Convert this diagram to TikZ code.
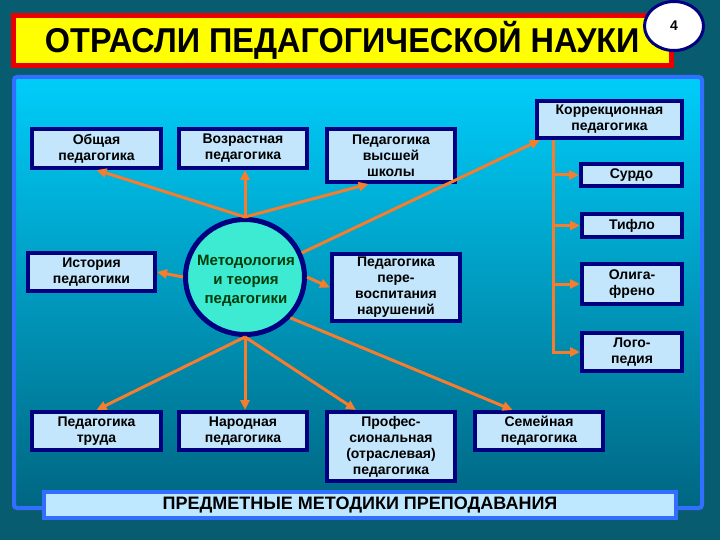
\documentclass[tikz,border=0pt]{standalone}
\usepackage{fontspec}
\setmainfont{Liberation Sans}
\usetikzlibrary{arrows.meta,shapes.geometric,calc}
\definecolor{bgc}{RGB}{8,92,112}
\definecolor{panelTop}{RGB}{0,205,250}
\definecolor{panelMid}{RGB}{0,160,210}
\definecolor{panelBot}{RGB}{0,102,130}
\definecolor{panelBorder}{RGB}{50,110,255}
\definecolor{navyc}{RGB}{0,0,128}
\definecolor{boxfill}{RGB}{195,230,252}
\definecolor{barfill}{RGB}{190,232,255}
\definecolor{arrc}{RGB}{245,125,45}
\definecolor{ellfill}{RGB}{60,235,210}
\definecolor{elltext}{RGB}{0,60,10}
\definecolor{titlered}{RGB}{235,0,0}
\definecolor{titleyellow}{RGB}{255,255,0}
\tikzset{
  boxn/.style={draw=navyc, line width=4pt, fill=boxfill, align=center,
    inner sep=1pt, font=\fontsize{14}{16}\selectfont\bfseries},
  arr/.style={draw=arrc, line width=3pt, -{Triangle[length=10pt,width=9pt]}},
  lin/.style={draw=arrc, line width=3pt},
}
\begin{document}
\begin{tikzpicture}[x=1pt,y=-1pt]
\useasboundingbox (0,0) rectangle (720,540);
\fill[bgc] (0,0) rectangle (720,540);
% panel
\shade[top color=panelTop, middle color=panelMid, bottom color=panelBot] (14,77) rectangle (702,508);
\draw[panelBorder, line width=4pt, rounded corners=3pt] (14,77) rectangle (702,508);
% title
\node[draw=titlered, fill=titleyellow, line width=5pt, minimum width=657.5pt, minimum height=50.5pt,
  inner sep=0pt, font=\fontsize{34.5}{34.5}\selectfont\bfseries] (title) at (342.25,40.75)
  {\scalebox{0.94}[1]{ОТРАСЛИ ПЕДАГОГИЧЕСКОЙ НАУКИ}};
\node[ellipse, draw=navyc, line width=3pt, fill=white, minimum width=59pt, minimum height=49pt,
  font=\fontsize{14}{14}\selectfont\bfseries] (num) at (674,26) {4};
% boxes
\node[boxn, minimum width=129pt, minimum height=39pt] (obsh) at (96.5,148.5) {Общая\\педагогика};
\node[boxn, minimum width=128pt, minimum height=39pt] (voz) at (243,148.5) {Возрастная\\педагогика};
\node[boxn, minimum width=128pt, minimum height=53pt] (vys) at (391,155.5) {Педагогика\\высшей\\школы};
\node[boxn, minimum width=145pt, minimum height=37pt] (kor) at (609.5,119.5) {Коррекционная\\педагогика};
\node[boxn, minimum width=101pt, minimum height=22pt] (surdo) at (631.5,175) {Сурдо};
\node[boxn, minimum width=100pt, minimum height=23pt] (tiflo) at (632,225.5) {Тифло};
\node[boxn, minimum width=100pt, minimum height=40pt] (oligo) at (632,284) {Олига-\\френо};
\node[boxn, minimum width=100pt, minimum height=38pt] (logo) at (632,352) {Лого-\\педия};
\node[boxn, minimum width=127pt, minimum height=38pt] (ist) at (91.5,272) {История\\педагогики};
\node[boxn, minimum width=128pt, minimum height=67pt] (perev) at (396,287.5) {Педагогика\\пере-\\воспитания\\нарушений};
\node[boxn, minimum width=129pt, minimum height=38pt] (trud) at (96.5,431) {Педагогика\\труда};
\node[boxn, minimum width=128pt, minimum height=38pt] (nar) at (243,431) {Народная\\педагогика};
\node[boxn, minimum width=128pt, minimum height=69pt] (prof) at (391,446.5) {Профес-\\сиональная\\(отраслевая)\\педагогика};
\node[boxn, minimum width=128pt, minimum height=38pt] (sem) at (539,431) {Семейная\\педагогика};
% central ellipse
\node[ellipse, draw=navyc, line width=5pt, fill=ellfill, minimum width=119pt, minimum height=115pt,
  inner sep=0pt] (m) at (245,277) {};
\node[align=center, text=elltext, inner sep=0pt, font=\fontsize{15}{19}\selectfont\bfseries] (mtext) at (246,281)
  {Методология\\и теория\\педагогики};
% bottom bar
\node[draw=panelBorder, line width=4pt, fill=barfill, minimum width=632pt, minimum height=26pt,
  inner sep=0pt, font=\fontsize{18}{18}\selectfont\bfseries] (bar) at (360,505) {ПРЕДМЕТНЫЕ МЕТОДИКИ ПРЕПОДАВАНИЯ};
% connectors
\draw[arr] (m.north) -- (obsh.south);
\draw[arr] (m.north) -- (m.north |- voz.south);
\draw[arr] (m.north) -- ($(vys.south west)!0.33!(vys.south east)$);
\draw[arr] (m.23) -- ([xshift=5pt]kor.south west);
\draw[arr] (m.west) -- (ist.east);
\draw[arr] (m.east) -- (perev.west);
\draw[arr] (m.south) -- (trud.north);
\draw[arr] (m.south) -- (m.south |- nar.north);
\draw[arr] (m.south) -- ($(prof.north west)!0.235!(prof.north east)$);
\draw[arr] (m.-42) -- ($(sem.north west)!0.3!(sem.north east)$);
\coordinate (br) at ([xshift=18pt]kor.south west);
\draw[lin] (br) -- (br |- logo.west);
\draw[arr] (br |- surdo.west) -- (surdo.west);
\draw[arr] (br |- tiflo.west) -- (tiflo.west);
\draw[arr] (br |- oligo.west) -- (oligo.west);
\draw[arr] ([xshift=-1.5pt]br |- logo.west) -- (logo.west);
\end{tikzpicture}
\end{document}
